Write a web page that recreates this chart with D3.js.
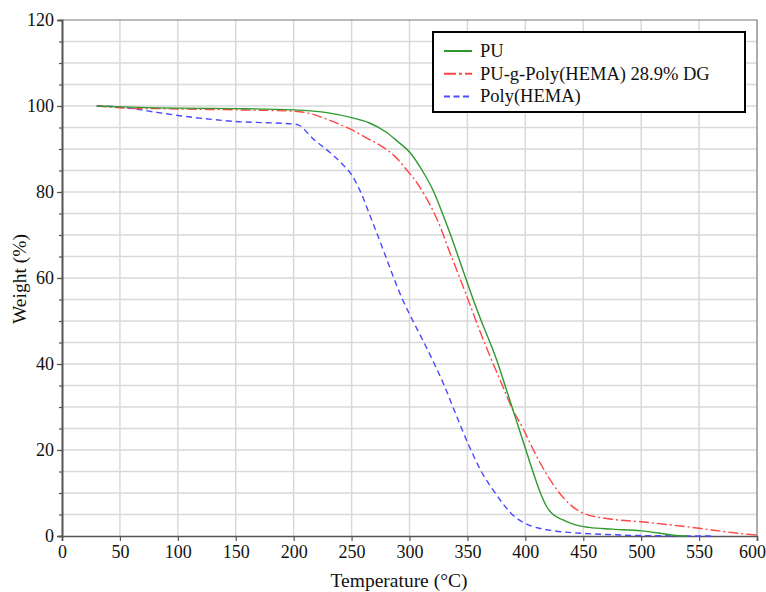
<!DOCTYPE html>
<html>
<head>
<meta charset="UTF-8">
<script src="https://cdn.jsdelivr.net/npm/d3@7"></script>
<style>
  body { margin: 0; background: #fff; }
  text { font-family: "Liberation Serif", "Times New Roman", serif; fill: #111; }
</style>
</head>
<body>
<svg id="chart" width="766" height="592"></svg>
<script>
// TGA curves, [temperature °C, weight %]
var puData = [[30,100],[50,99.8],[100,99.5],[150,99.4],[200,99.1],[230,98.4],[250,97.3],[265,96.1],
  [280,93.9],[290,91.7],[300,89.3],[311,85],[321,80],[328.5,75],[335.5,70],[342,65],[348.5,60],
  [355,55],[362,50],[369.5,45],[376.5,40],[382.5,35],[388.5,30],[394.5,25],[400.5,20],[406.5,15],
  [413,10],[418.5,6.8],[424,5],[432,3.8],[442,2.7],[455,2.0],[475,1.6],[500,1.2],[515,0.7],
  [530,0.1],[540,0]];

var graftData = [[30,100],[50,99.6],[60,99.4],[80,99.4],[100,99.3],[150,99.1],[200,98.8],[215,98.2],
  [228,97.0],[240,95.7],[250,94.5],[262,92.7],[275,90.8],[287,88.4],[298,85],[306,82.3],[313,79.3],
  [320,75.8],[327,71.6],[333,67.2],[340,62.4],[347,57.5],[354,52.5],[361,47.5],[368,42.8],
  [375,38.3],[381,34.5],[388,30],[398,25],[407,20],[417,15],[428,10.5],[440,7],[450,5.3],
  [475,3.9],[500,3.3],[525,2.6],[550,1.8],[575,0.9],[600,0.2]];

var hemaData = [[30,100],[50,99.8],[75,98.8],[100,97.8],[150,96.4],[200,95.8],[204,95.6],[217,92.3],
  [230,89.5],[242,86.5],[250,84],[257,80.5],[264.5,75.5],[271.7,70.5],[278.9,65.4],[286,60.3],
  [294,55],[303,50],[312.5,45],[321.5,40],[330,35],[337.5,30],[345,25],[353,20],[362,15],
  [374,10],[388,5.2],[400,2.9],[412,1.8],[425,1.2],[450,0.6],[475,0.3],[500,0.1],[562,0]];

var seriesNames = ["PU", "PU-g-Poly(HEMA) 28.9% DG", "Poly(HEMA)"];
var xTicks = [0,50,100,150,200,250,300,350,400,450,500,550,600];
var yTicks = [0,20,40,60,80,100,120];

var svg = d3.select("#chart");
var margin = {top: 20, left: 62, right: 9, bottom: 56};
var W = 766 - margin.left - margin.right;
var H = 592 - margin.top - margin.bottom;

var g = svg.append("g").attr("transform", "translate(" + margin.left + "," + margin.top + ")");

var x = d3.scaleLinear().domain([0, 600]).range([0, W]);
var y = d3.scaleLinear().domain([0, 120]).range([H, 0]);

// grid
g.append("g").selectAll("line").data(d3.range(5, 120, 5)).join("line")
  .attr("x1", 0).attr("x2", W)
  .attr("y1", function(d){ return y(d); }).attr("y2", function(d){ return y(d); })
  .attr("stroke", "#d9d9d9").attr("stroke-width", 1.5);
g.append("g").selectAll("line").data(d3.range(50, 600, 50)).join("line")
  .attr("y1", 0).attr("y2", H)
  .attr("x1", function(d){ return x(d); }).attr("x2", function(d){ return x(d); })
  .attr("stroke", "#d9d9d9").attr("stroke-width", 1.5);

// frame top / right
g.append("path").attr("d", "M0,0H" + W + "V" + H)
  .attr("fill", "none").attr("stroke", "#777").attr("stroke-width", 1.2);

// axes
var xAxis = g.append("g").attr("transform", "translate(0," + H + ")")
  .call(d3.axisBottom(x).tickValues(xTicks).tickSize(5).tickPadding(4).tickFormat(d3.format("d")));
var yMinor = g.append("g")
  .call(d3.axisLeft(y).tickValues(d3.range(0, 121, 5)).tickSize(3).tickFormat(""));
var yAxis = g.append("g")
  .call(d3.axisLeft(y).tickValues(yTicks).tickSize(5).tickPadding(3).tickFormat(d3.format("d")));
[xAxis, yAxis, yMinor].forEach(function(a){
  a.select(".domain").attr("stroke", "#555").attr("stroke-width", 1.6);
  a.selectAll(".tick line").attr("stroke", "#555").attr("stroke-width", 1.2);
  a.selectAll("text").attr("font-size", 18).attr("font-family", "Liberation Serif").attr("fill", "#111");
});
// last label sits against the window edge
xAxis.selectAll(".tick text").filter(function(d){ return d == 600; }).attr("dx", -5);

// curves
var line = d3.line()
  .x(function(d){ return x(d[0]); })
  .y(function(d){ return y(d[1]); })
  .curve(d3.curveMonotoneX);

var styles = [
  {data: puData, color: "#2e9a2e", dash: null},
  {data: graftData, color: "#ff4646", dash: "10,3,2,3"},
  {data: hemaData, color: "#4a4aff", dash: "6,4"}
];
// draw blue first so the others sit on top
[2, 1, 0].forEach(function(i){
  var s = styles[i];
  g.append("path").datum(s.data)
    .attr("d", line)
    .attr("fill", "none")
    .attr("stroke", s.color)
    .attr("stroke-width", 1.4)
    .attr("stroke-dasharray", s.dash);
});

// axis titles
svg.append("text").attr("x", 399).attr("y", 587).attr("text-anchor", "middle")
  .attr("font-size", 19.5).text("Temperature (°C)");
svg.append("text").attr("transform", "translate(26,279) rotate(-90)").attr("text-anchor", "middle")
  .attr("font-size", 19.5).text("Weight (%)");

// legend
var lg = svg.append("g").attr("transform", "translate(433,32)");
lg.append("rect").attr("width", 312).attr("height", 80)
  .attr("fill", "#fff").attr("stroke", "#000").attr("stroke-width", 2);
seriesNames.forEach(function(name, i){
  var yy = 19 + i * 22.7;
  lg.append("line").attr("x1", 11).attr("x2", 39).attr("y1", yy).attr("y2", yy)
    .attr("stroke", styles[i].color).attr("stroke-width", 2)
    .attr("stroke-dasharray", styles[i].dash ? (i == 1 ? "12,3,3,3" : "6,3.5") : null);
  lg.append("text").attr("x", 47).attr("y", yy + 6).attr("font-size", 18.5).text(name);
});
</script>
</body>
</html>
